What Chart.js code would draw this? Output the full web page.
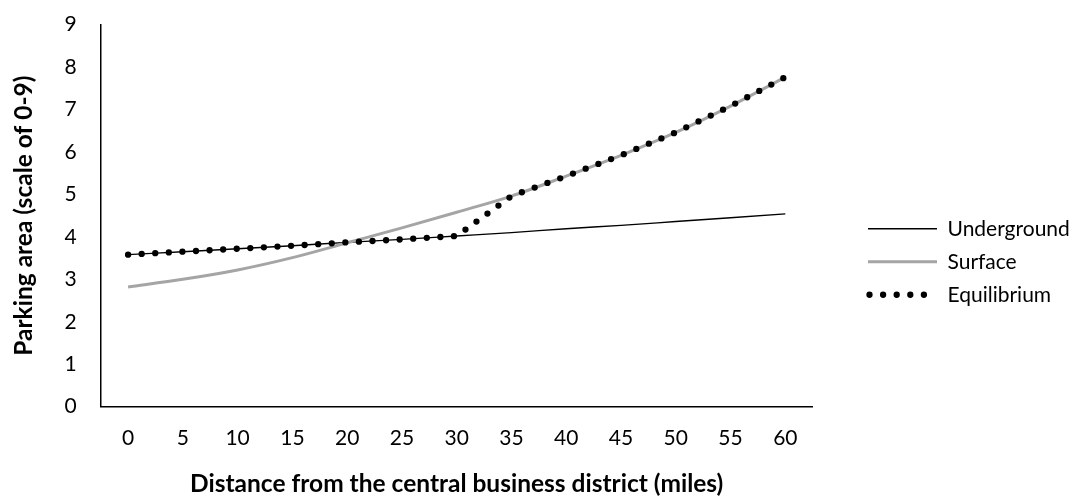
<!DOCTYPE html>
<html><head><meta charset="utf-8">
<script src="https://cdn.jsdelivr.net/npm/chart.js@4"></script>
<style>html,body{margin:0;padding:0;background:#fff;overflow:hidden}#wrap{width:1076px;height:499px;position:relative}</style>
</head><body><div id="wrap"><canvas id="c" width="1076" height="499"></canvas></div>
<script>
// ---- data ----
const distanceLabels = ['0','5','10','15','20','25','30','35','40','45','50','55','60'];
const seriesNames = ['Underground','Surface','Equilibrium'];
const undergroundValues = [3.58, 3.65, 3.72, 3.79, 3.87, 3.94, 4.02, 4.10, 4.19, 4.27, 4.36, 4.45, 4.54];
const surfaceValues     = [2.82, 3.00, 3.22, 3.51, 3.86, 4.21, 4.58, 4.96, 5.43, 5.92, 6.46, 7.08, 7.76];
const equilibriumValues = [3.58, 3.65, 3.72, 3.79, 3.87, 3.94, 4.02, 4.96, 5.43, 5.92, 6.46, 7.08, 7.76];
const yMin = 0, yMax = 9, yStep = 1;
const xTitle = 'Distance from the central business district (miles)';
const yTitle = 'Parking area (scale of 0-9)';

// ---- layout ----
const FONT = 'Lato';
const W = 1076, H = 499;
const plotLeft = 100.7, plotRight = 812.7, plotTop = 24.5, plotBottom = 406.7;
const textSize = 21, titleSize = 24.5;
const legendFontSize = 21, legendPad = 12, legendBox = 69, legendItemX = 868;

const mctx = document.createElement('canvas').getContext('2d');
mctx.font = legendFontSize + 'px ' + FONT;
const maxText = Math.max(...seriesNames.map(t => mctx.measureText(t).width));
const legendW = legendPad + legendBox + legendFontSize / 2 + maxText;
const padRight = W - plotRight - legendW;

const legendFix = {
  id: 'legendFix',
  beforeLayout(chart) {
    const lg = chart.legend;
    if (lg && !lg.__patched) {
      const f = lg.fit;
      lg.fit = function () { f.call(this); this.width = legendW; };
      lg.__patched = true;
    }
  },
  afterLayout(chart) {
    const lg = chart.legend;
    if (!lg) return;
    const dx = (legendItemX - legendPad) - lg.left;
    lg.left += dx; lg.right += dx;
  }
};

new Chart(document.getElementById('c'), {
  type: 'line',
  data: {
    labels: distanceLabels,
    datasets: [
      { label: seriesNames[0], data: undergroundValues, borderColor: '#000000', backgroundColor: '#000000',
        borderWidth: 1.4, pointRadius: 0, cubicInterpolationMode: 'monotone', order: 2 },
      { label: seriesNames[1], data: surfaceValues, borderColor: '#A5A5A5', backgroundColor: '#A5A5A5',
        borderWidth: 3, pointRadius: 0, cubicInterpolationMode: 'monotone', order: 1 },
      { label: seriesNames[2], data: equilibriumValues, borderColor: '#000000', backgroundColor: '#000000',
        borderWidth: 6.3, borderDash: [0, 13.6], borderCapStyle: 'round', pointRadius: 0, tension: 0, order: 0 }
    ]
  },
  options: {
    responsive: false,
    animation: false,
    devicePixelRatio: 1,
    layout: { padding: { top: plotTop, right: padRight, bottom: 0, left: 0 } },
    plugins: {
      tooltip: { enabled: false },
      legend: {
        display: true,
        position: 'right',
        align: 'center',
        labels: {
          font: { family: FONT, size: legendFontSize },
          color: '#000',
          padding: legendPad,
          usePointStyle: true,
          pointStyleWidth: legendBox,
          generateLabels(chart) {
            return chart.data.datasets.map((ds, i) => ({
              text: ds.label,
              fillStyle: ds.borderColor,
              strokeStyle: ds.borderColor,
              lineWidth: ds.borderWidth,
              lineDash: ds.borderDash || [],
              lineDashOffset: ds.borderDash ? -1.5 : 0,
              lineCap: ds.borderCapStyle || 'butt',
              pointStyle: 'line',
              fontColor: '#000',
              hidden: false,
              datasetIndex: i
            }));
          }
        }
      }
    },
    scales: {
      x: {
        type: 'category',
        offset: true,
        grid: { display: false, drawTicks: false },
        border: { display: true, color: '#000', width: 1.5 },
        ticks: { color: '#000', font: { family: FONT, size: textSize }, padding: 19, maxRotation: 0, autoSkip: false },
        title: { display: true, text: xTitle, color: '#000', font: { family: FONT, size: titleSize, weight: 'bold' }, padding: { top: 0, bottom: 0 } },
        afterFit(scale) { scale.height = H - plotBottom; scale.paddingLeft = 0; scale.paddingRight = 0; }
      },
      y: {
        min: yMin, max: yMax,
        grid: { display: false, drawTicks: false },
        border: { display: true, color: '#000', width: 1.5 },
        ticks: { stepSize: yStep, color: '#000', font: { family: FONT, size: textSize }, padding: 24 },
        title: { display: true, text: yTitle, color: '#000', font: { family: FONT, size: titleSize, weight: 'bold' }, padding: { top: 9, bottom: 0 } },
        afterFit(scale) { scale.width = plotLeft; scale.paddingTop = 0; scale.paddingBottom = 0; }
      }
    }
  },
  plugins: [legendFix]
});
</script>
</body></html>
